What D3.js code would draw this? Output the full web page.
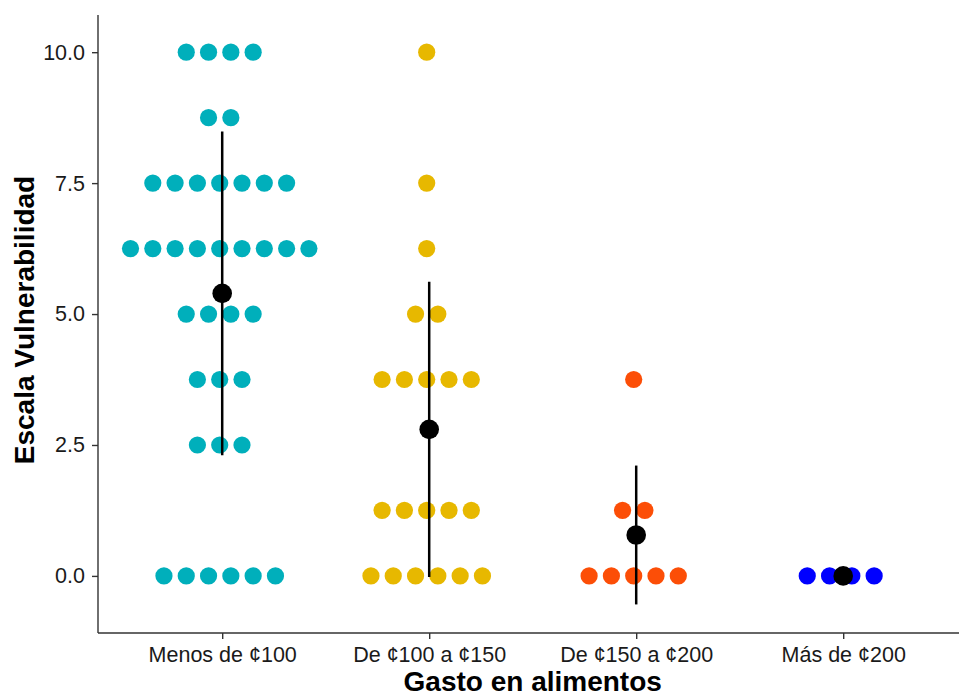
<!DOCTYPE html>
<html>
<head>
<meta charset="utf-8">
<script src="https://cdn.jsdelivr.net/npm/d3@7"></script>
<style>
  html, body { margin: 0; padding: 0; background: #fff; }
  svg { display: block; font-family: "Liberation Sans", Arial, sans-serif; }
</style>
</head>
<body>
<svg id="chart" width="959" height="697"></svg>
<script>
// ---- Data ----
const categories = ["Menos de ¢100", "De ¢100 a ¢150", "De ¢150 a ¢200", "Más de ¢200"];
const colors = ["#00AFBB", "#E7B800", "#FC4E07", "#0000FF"];
const levels = [0, 1.25, 2.5, 3.75, 5, 6.25, 7.5, 8.75, 10];
// counts of observations at each level, per category
const counts1 = [6, 0, 3, 3, 4, 9, 7, 2, 4];
const counts2 = [6, 5, 0, 5, 2, 1, 1, 0, 1];
const counts3 = [5, 2, 0, 1, 0, 0, 0, 0, 0];
const counts4 = [4, 0, 0, 0, 0, 0, 0, 0, 0];
const countsByCat = [counts1, counts2, counts3, counts4];
const yTicks = [0, 2.5, 5, 7.5, 10];

// ---- Layout ----
const W = 959, H = 697;
const panel = { left: 98, top: 15, bottom: 633 };
const svg = d3.select("#chart");

const y = d3.scaleLinear().domain([-1.09, 10.71]).range([panel.bottom, panel.top]);
// discrete axis with ggplot-style expansion (0.6 of a step each side)
const step = 207;
const x = d3.scalePoint().domain(categories)
  .range([panel.left + 0.6 * step, panel.left + 3.6 * step]);

const dotR = 8.6, dotGap = 22.3, dotShift = -2.5;

// ---- Dots ----
countsByCat.forEach((counts, ci) => {
  const cx = x(categories[ci]);
  const values = [];
  counts.forEach((n, li) => {
    for (let k = 0; k < n; k++) values.push(levels[li]);
    for (let k = 0; k < n; k++) {
      svg.append("circle")
        .attr("cx", cx + dotShift + (k - (n - 1) / 2) * dotGap)
        .attr("cy", y(levels[li]))
        .attr("r", dotR)
        .attr("fill", colors[ci]);
    }
  });
  // mean ± sd
  const m = d3.mean(values);
  const sd = d3.deviation(values) || 0;
  if (sd > 0) {
    svg.append("line")
      .attr("x1", cx).attr("x2", cx)
      .attr("y1", y(m + sd)).attr("y2", y(m - sd))
      .attr("stroke", "#000").attr("stroke-width", 2.5);
  }
  svg.append("circle")
    .attr("cx", cx).attr("cy", y(m)).attr("r", 9.8).attr("fill", "#000");
});

// ---- Axes ----
const yAxis = d3.axisLeft(y).tickValues(yTicks).tickFormat(d3.format(".1f")).tickSize(6).tickPadding(7);
const gy = svg.append("g").attr("transform", `translate(${panel.left},0)`).call(yAxis);
gy.select(".domain").attr("d", `M0,${panel.top}V${panel.bottom}`);
const xAxis = d3.axisBottom(x).tickSize(6).tickPadding(8);
const gx = svg.append("g").attr("transform", `translate(0,${panel.bottom})`).call(xAxis);
gx.select(".domain").attr("d", `M${panel.left},0H${W + 10}`);

[gx, gy].forEach(g => {
  g.select(".domain").attr("stroke", "#333").attr("stroke-width", 1.4);
  g.selectAll(".tick line").attr("stroke", "#333").attr("stroke-width", 1.4);
  g.selectAll(".tick text").attr("fill", "#1a1a1a").style("font-size", "21.5px")
    .style("font-family", '"Liberation Sans", Arial, sans-serif');
});

// ---- Titles ----
svg.append("text")
  .attr("x", (panel.left + panel.left + 4.2 * step) / 2)
  .attr("y", 691)
  .attr("text-anchor", "middle")
  .style("font-size", "28px").style("font-weight", "bold").attr("fill", "#000")
  .text("Gasto en alimentos");

svg.append("text")
  .attr("transform", `translate(34,${(panel.top + panel.bottom) / 2 - 4}) rotate(-90)`)
  .attr("text-anchor", "middle")
  .style("font-size", "28px").style("font-weight", "bold").attr("fill", "#000")
  .text("Escala Vulnerabilidad");
</script>
</body>
</html>
